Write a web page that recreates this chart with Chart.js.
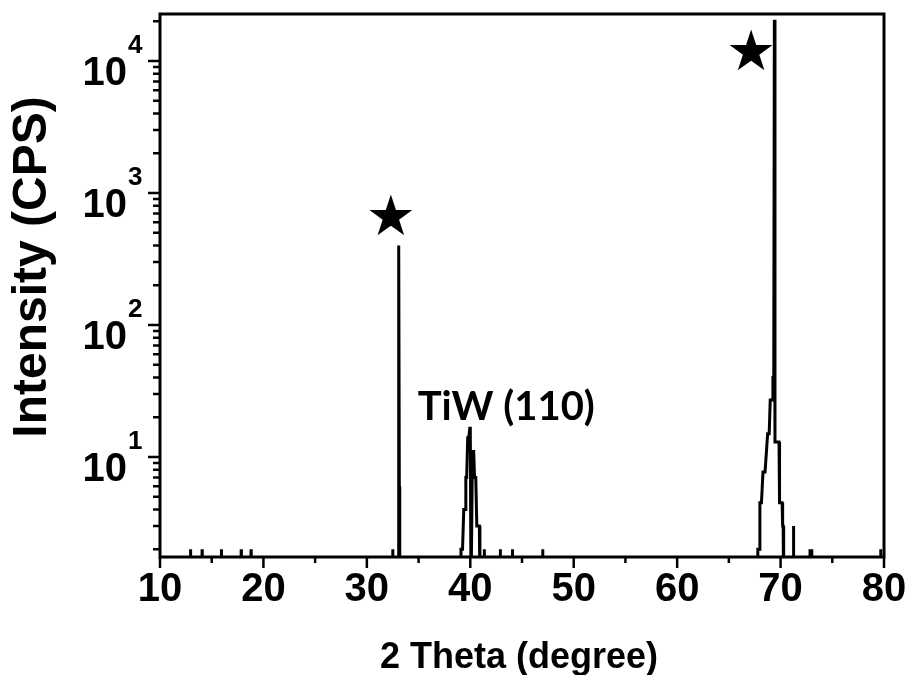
<!DOCTYPE html>
<html><head><meta charset="utf-8">
<script src="https://cdn.jsdelivr.net/npm/chart.js@4.4.1/dist/chart.umd.min.js"></script>
<style>html,body{margin:0;padding:0;background:#fff}</style>
</head><body>
<canvas id="c" width="908" height="675"></canvas>
<script>
// ---- data (0 = no counts) ----
const twoTheta = [
  10.00,
  12.93, 12.95, 12.97,
  14.05, 14.07, 14.09,
  15.91, 15.93, 15.95,
  17.83, 17.85, 17.87,
  18.78, 18.80, 18.82,
  32.48, 32.50, 32.52,
  33.04, 33.06, 33.10, 33.14, 33.18,
  39.08, 39.10, 39.25, 39.37, 39.49, 39.57, 39.65, 39.75, 39.85, 39.95, 40.00, 40.07, 40.21, 40.33, 40.41, 40.53, 40.63, 40.88, 40.93,
  41.33, 41.35, 41.37,
  42.88, 42.90, 42.92,
  44.05, 44.07, 44.09,
  46.98, 47.00, 47.02,
  67.78, 67.80, 67.95, 68.00, 68.15, 68.30, 68.50, 68.75, 68.90, 69.00, 69.20, 69.26, 69.34, 69.40, 69.46, 69.85, 69.90, 70.15, 70.20, 70.25, 70.30,
  71.23, 71.25, 71.27,
  72.83, 72.85, 72.87,
  73.00, 73.02, 73.04,
  79.66, 79.68, 79.70,
  80.00
];
const cps = [
  0,
  0, 2, 0,
  0, 2, 0,
  0, 2, 0,
  0, 2, 0,
  0, 2, 0,
  0, 2, 0,
  0, 4, 400, 6, 0,
  0, 2, 2, 4, 4, 7, 7, 14, 14, 16.5, 16.5, 0, 11, 11, 7, 7, 3, 3, 0,
  0, 2, 0,
  0, 2, 0,
  0, 2, 0,
  0, 2, 0,
  0, 2, 2, 4.5, 4.5, 7.7, 7.7, 15, 15, 27, 27, 40, 40, 20500, 13, 13, 4.5, 4.5, 3, 3, 0,
  0, 3, 0,
  0, 2, 0,
  0, 2, 0,
  0, 2, 0,
  0
];
const xMajorTicks = [10, 20, 30, 40, 50, 60, 70, 80];
const xMinorTicks = [15, 25, 35, 45, 55, 65, 75];
const yMajorExponents = [1, 2, 3, 4];
const yMinorMultipliers = [2, 3, 4, 5, 6, 7, 8, 9];
const xTitle = '2 Theta (degree)';
const yTitle = 'Intensity (CPS)';
const peakLabel = { text: 'TiW (110)', x: 43.48, y: 24 };
const starMarks = [ { x: 32.32, y: 624 }, { x: 67.15, y: 11100 } ];

const Y_MIN = 1.75, Y_MAX = 22700;
// zero-count points sit below the axis floor, so they fall on the baseline
const points = twoTheta.map((t, i) => ({ x: t, y: cps[i] > 0 ? cps[i] : Y_MIN / 2 }));

const decor = {
  id: 'decor',
  afterDraw(chart) {
    const ctx = chart.ctx, ca = chart.chartArea;
    const sx = chart.scales.x, sy = chart.scales.y;
    ctx.save();
    ctx.strokeStyle = '#000';
    ctx.fillStyle = '#000';
    ctx.lineWidth = 3;
    ctx.strokeRect(ca.left, ca.top, ca.right - ca.left, ca.bottom - ca.top);
    ctx.lineWidth = 2.5;
    ctx.beginPath();
    xMajorTicks.forEach(v => { const p = sx.getPixelForValue(v); ctx.moveTo(p, ca.bottom); ctx.lineTo(p, ca.bottom + 11); });
    xMinorTicks.forEach(v => { const p = sx.getPixelForValue(v); ctx.moveTo(p, ca.bottom); ctx.lineTo(p, ca.bottom + 6); });
    for (let e = 0; e <= 4; e++) {
      const base = Math.pow(10, e);
      if (yMajorExponents.includes(e)) {
        const p = sy.getPixelForValue(base);
        ctx.moveTo(ca.left, p); ctx.lineTo(ca.left - 12, p);
      }
      yMinorMultipliers.forEach(m => {
        const v = m * base;
        if (v >= Y_MIN && v <= Y_MAX) {
          const p = sy.getPixelForValue(v);
          ctx.moveTo(ca.left, p); ctx.lineTo(ca.left - 7, p);
        }
      });
    }
    ctx.stroke();

    // x tick labels
    ctx.font = 'bold 40px "Liberation Sans", Arial, sans-serif';
    ctx.textAlign = 'center';
    ctx.textBaseline = 'alphabetic';
    xMajorTicks.forEach(v => ctx.fillText(String(v), sx.getPixelForValue(v), ca.bottom + 44));

    // y tick labels 10^n
    yMajorExponents.forEach(e => {
      const p = sy.getPixelForValue(Math.pow(10, e));
      ctx.font = 'bold 40px "Liberation Sans", Arial, sans-serif';
      ctx.textAlign = 'right';
      ctx.fillText('10', ca.left - 33, p + 24);
      ctx.font = 'bold 26px "Liberation Sans", Arial, sans-serif';
      ctx.textAlign = 'left';
      ctx.fillText(String(e), ca.left - 32, p - 8);
    });

    // axis titles
    ctx.font = 'bold 36px "Liberation Sans", Arial, sans-serif';
    ctx.textAlign = 'center';
    ctx.fillText(xTitle, 519, 668);
    ctx.save();
    ctx.translate(33, 267);
    ctx.rotate(-Math.PI / 2);
    ctx.font = 'bold 48px "Liberation Sans", Arial, sans-serif';
    ctx.textBaseline = 'middle';
    ctx.fillText(yTitle, 0, 0);
    ctx.restore();

    // peak label
    ctx.font = 'bold 40px Lato, "Open Sans", sans-serif';
    ctx.textAlign = 'center';
    ctx.textBaseline = 'middle';
    ctx.fillText(peakLabel.text, sx.getPixelForValue(peakLabel.x), sy.getPixelForValue(peakLabel.y));

    // stars
    ctx.font = '56px "DejaVu Sans", sans-serif';
    starMarks.forEach(s => ctx.fillText('\u2605', sx.getPixelForValue(s.x), sy.getPixelForValue(s.y)));
    ctx.restore();
  }
};

new Chart(document.getElementById('c'), {
  type: 'line',
  data: { datasets: [{ data: points, borderColor: '#000', borderWidth: 3, pointRadius: 0, tension: 0, fill: false }] },
  options: {
    responsive: false, animation: false, devicePixelRatio: 1,
    layout: { padding: { left: 160, right: 24, top: 14, bottom: 118 } },
    plugins: { legend: { display: false }, tooltip: { enabled: false } },
    scales: {
      x: { type: 'linear', display: false, min: 10, max: 80 },
      y: { type: 'logarithmic', display: false, min: Y_MIN, max: Y_MAX }
    }
  },
  plugins: [decor]
});
</script>
</body></html>
